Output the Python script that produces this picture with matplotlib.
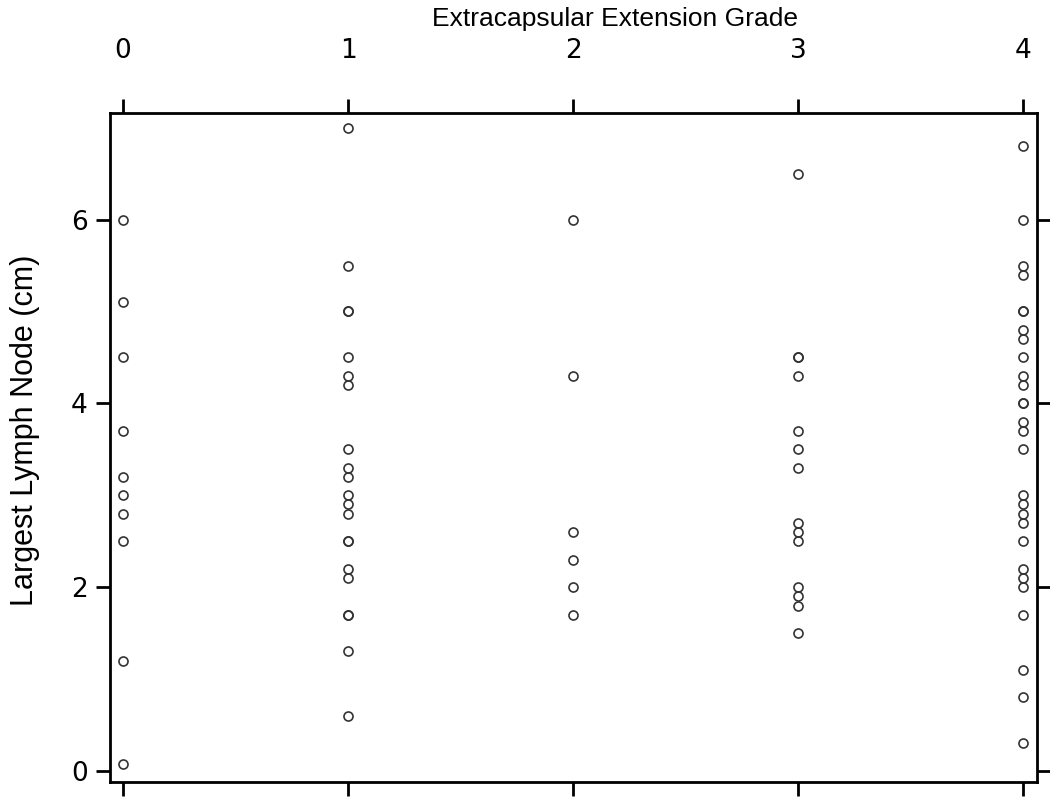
import matplotlib
matplotlib.use("Agg")
import matplotlib.pyplot as plt

grades = [0, 1, 2, 3, 4]
grade0 = [6.0, 5.1, 4.5, 3.7, 3.2, 3.0, 2.8, 2.5, 1.2, 0.08]
grade1 = [7.0, 5.5, 5.0, 5.0, 4.5, 4.3, 4.2, 3.5, 3.3, 3.2, 3.0, 2.9, 2.8,
          2.5, 2.5, 2.2, 2.1, 1.7, 1.7, 1.3, 0.6]
grade2 = [6.0, 4.3, 2.6, 2.3, 2.0, 1.7]
grade3 = [6.5, 4.5, 4.5, 4.3, 3.7, 3.5, 3.3, 2.7, 2.6, 2.5, 2.0, 1.9, 1.8, 1.5]
grade4 = [6.8, 6.0, 5.5, 5.4, 5.0, 5.0, 4.8, 4.7, 4.5, 4.3, 4.2, 4.0, 4.0,
          3.8, 3.7, 3.5, 3.0, 2.9, 2.8, 2.7, 2.5, 2.2, 2.1, 2.0, 1.7, 1.1,
          0.8, 0.3]
series = [grade0, grade1, grade2, grade3, grade4]
x_ticks = [0, 1, 2, 3, 4]
y_ticks = [0, 2, 4, 6]

plt.rcParams['font.family'] = ['DejaVu Sans']

fig = plt.figure(figsize=(10.5, 7.99), dpi=100)
ax = fig.add_axes([0.1048, 0.0213, 0.8828, 0.8373])

for g, vals in zip(grades, series):
    ax.plot([g] * len(vals), vals, linestyle='none', marker='o',
            markersize=6.5, markerfacecolor='none', markeredgecolor='#333333',
            markeredgewidth=1.2)

ax.set_xlim(-0.058, 4.062)
ax.set_ylim(-0.12, 7.16)
ax.set_xticks(x_ticks)
ax.set_yticks(y_ticks)
ax.xaxis.set_ticks_position('both')
ax.yaxis.set_ticks_position('both')
ax.tick_params(axis='x', which='both', direction='out', length=10, width=2,
               labeltop=True, labelbottom=False, labelsize=19, pad=25.5)
ax.tick_params(axis='y', which='both', direction='out', length=10, width=2,
               labelleft=True, labelright=False, labelsize=19, pad=6)
for s in ax.spines.values():
    s.set_linewidth(2)

ax.xaxis.set_label_position('top')
ax.set_xlabel('Extracapsular Extension Grade', fontsize=19,
              family=['Liberation Sans', 'DejaVu Sans'])
ax.xaxis.set_label_coords(0.545, 1.1295)
ax.set_ylabel('Largest Lymph Node (cm)', fontsize=22,
              family=['Liberation Sans', 'DejaVu Sans'])
ax.yaxis.set_label_coords(-0.0755, 0.526)

fig.savefig('out.png', dpi=100)
